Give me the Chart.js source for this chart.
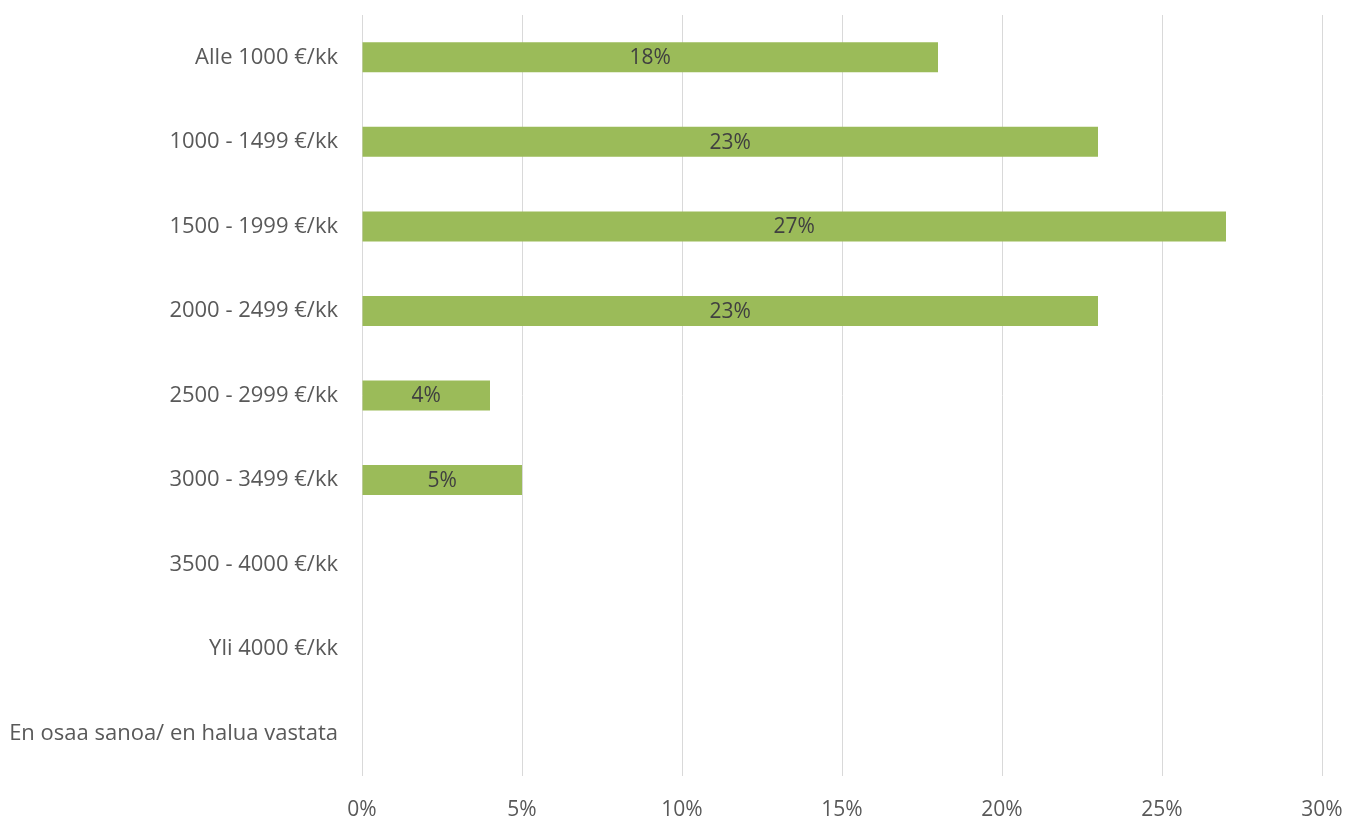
<!DOCTYPE html>
<html><head><meta charset="utf-8">
<script src="https://cdn.jsdelivr.net/npm/chart.js@4"></script>
<style>html,body{margin:0;padding:0;background:#fff}#wrap{width:1347px;height:818px;position:relative}</style>
</head><body><div id="wrap"><canvas id="c"></canvas></div>
<script>
const categories = ["Alle 1000 €/kk","1000 - 1499 €/kk","1500 - 1999 €/kk","2000 - 2499 €/kk","2500 - 2999 €/kk","3000 - 3499 €/kk","3500 - 4000 €/kk","Yli 4000 €/kk","En osaa sanoa/ en halua vastata"];
const values = [18, 23, 27, 23, 4, 5, null, null, null];
const xTicks = [0, 5, 10, 15, 20, 25, 30];

const FONT = "Open Sans";
const labelPlugin = {
  id: 'barLabels',
  afterDatasetsDraw(chart) {
    const ctx = chart.ctx;
    const meta = chart.getDatasetMeta(0);
    ctx.save();
    ctx.font = "21px '" + FONT + "'";
    ctx.fillStyle = "#404040";
    ctx.textAlign = "center";
    ctx.textBaseline = "middle";
    meta.data.forEach((bar, i) => {
      const v = values[i];
      if (v == null) return;
      const x = (bar.x + bar.base) / 2;
      ctx.fillText(v + "%", x, bar.y + 1);
    });
    ctx.restore();
  }
};

new Chart(document.getElementById('c'), {
  type: 'bar',
  data: { labels: categories, datasets: [{ data: values, backgroundColor: '#9BBB59', barPercentage: 0.71, categoryPercentage: 0.5 }] },
  options: {
    indexAxis: 'y', responsive: true, maintainAspectRatio: false, animation: false,
    layout: { padding: { left: 0, right: 25, top: 15, bottom: 0 } },
    plugins: { legend: { display: false }, tooltip: { enabled: false } },
    scales: {
      x: {
        min: 0, max: 30,
        afterBuildTicks(s) { s.ticks = xTicks.map(v => ({ value: v })); },
        afterFit(s) { s.height = 42; s.paddingLeft = 0; s.paddingRight = 0; },
        grid: { color: '#d9d9d9', lineWidth: 1, drawTicks: false },
        border: { display: false },
        ticks: { callback: v => v + '%', color: '#595959', font: { family: FONT, size: 21 }, padding: 21 }
      },
      y: {
        afterFit(s) { s.width = 362; s.paddingTop = 0; s.paddingBottom = 0; },
        grid: { display: false },
        border: { display: false },
        ticks: { color: '#595959', font: { family: FONT, size: 22 }, padding: 16 }
      }
    }
  },
  plugins: [labelPlugin]
});
</script></body></html>
